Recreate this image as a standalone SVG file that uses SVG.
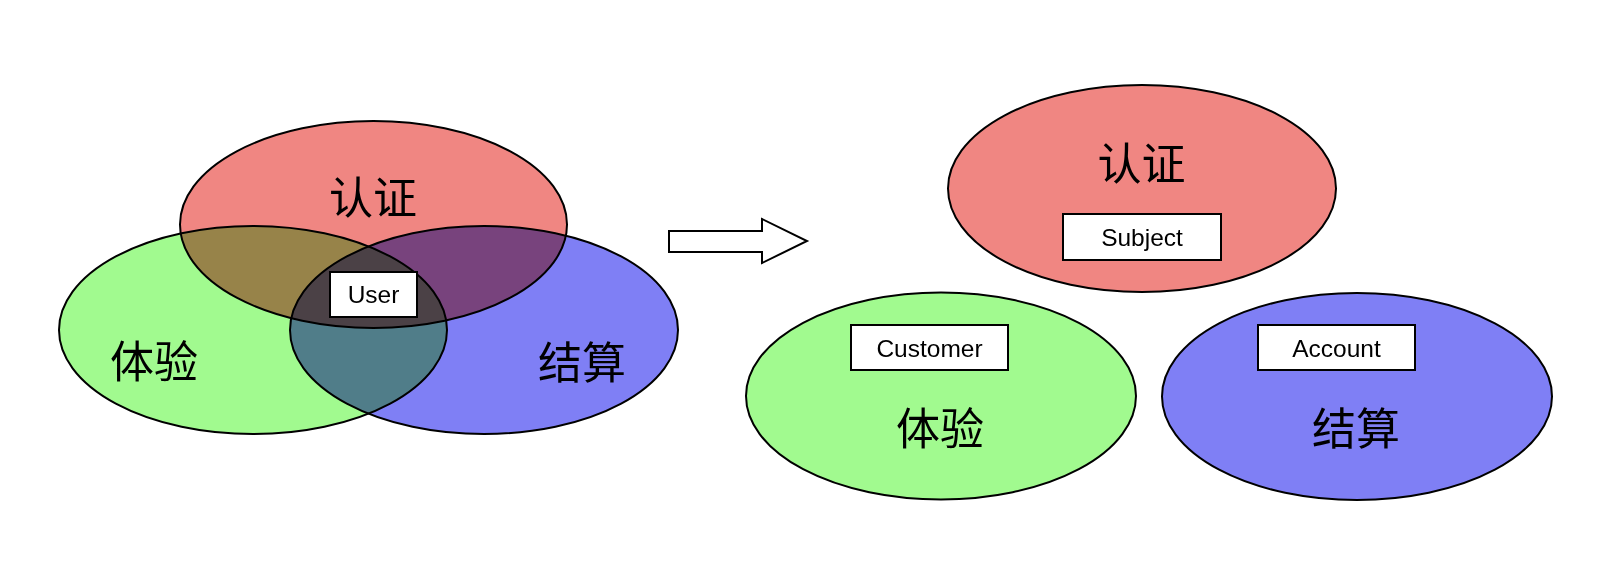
<svg xmlns="http://www.w3.org/2000/svg" width="1610" height="574" viewBox="0 0 1610 574">
<style>
.ell{stroke:#000;stroke-width:2;mix-blend-mode:multiply}
.red{fill:#F08682}
.green{fill:#A1FA8F}
.blue{fill:#7F7FF5}
.box{fill:#fff;stroke:#000;stroke-width:2}
.lbl{font-family:"Liberation Sans","Noto Sans",sans-serif;font-size:24.5px;fill:#000;text-anchor:middle}
.cn{font-family:"Noto Sans CJK SC","Noto Sans",sans-serif;font-size:44px;font-weight:400;fill:#000;text-anchor:middle;dominant-baseline:central}
</style>
<rect width="1610" height="574" fill="#fff"/>
<g id="venn" style="isolation:isolate">
  <ellipse id="venn-auth" class="ell red" cx="373.5" cy="224.5" rx="193.5" ry="103.5"/>
  <ellipse id="venn-exp" class="ell green" cx="253" cy="330" rx="194" ry="104"/>
  <ellipse id="venn-bill" class="ell blue" cx="484" cy="330" rx="194" ry="104"/>
</g>
<g id="venn-labels">
  <text class="cn" x="373" y="195">认证</text>
  <text class="cn" x="154" y="359">体验</text>
  <text class="cn" x="582" y="360">结算</text>
</g>
<g id="user">
  <rect class="box" x="330" y="272" width="87" height="45"/>
  <text class="lbl" x="373.5" y="303">User</text>
</g>
<g id="connectors">
  <polygon points="669,231 762,231 762,219 807,241 762,263 762,252 669,252" fill="#fff" stroke="#000" stroke-width="2" stroke-linejoin="miter"/>
</g>
<g id="auth">
  <ellipse class="ell red" cx="1142" cy="188.5" rx="194" ry="103.5" style="mix-blend-mode:normal"/>
  <text class="cn" x="1141.5" y="160.5">认证</text>
  <rect class="box" x="1063" y="214" width="158" height="46"/>
  <text class="lbl" x="1142" y="246">Subject</text>
</g>
<g id="experience">
  <ellipse class="ell green" cx="941" cy="396" rx="195" ry="103.5" style="mix-blend-mode:normal"/>
  <rect class="box" x="851" y="325" width="157" height="45"/>
  <text class="lbl" x="929.5" y="357">Customer</text>
  <text class="cn" x="940" y="426">体验</text>
</g>
<g id="billing">
  <ellipse class="ell blue" cx="1357" cy="396.5" rx="195" ry="103.5" style="mix-blend-mode:normal"/>
  <rect class="box" x="1258" y="325" width="157" height="45"/>
  <text class="lbl" x="1336.5" y="357">Account</text>
  <text class="cn" x="1356" y="426">结算</text>
</g>
</svg>
